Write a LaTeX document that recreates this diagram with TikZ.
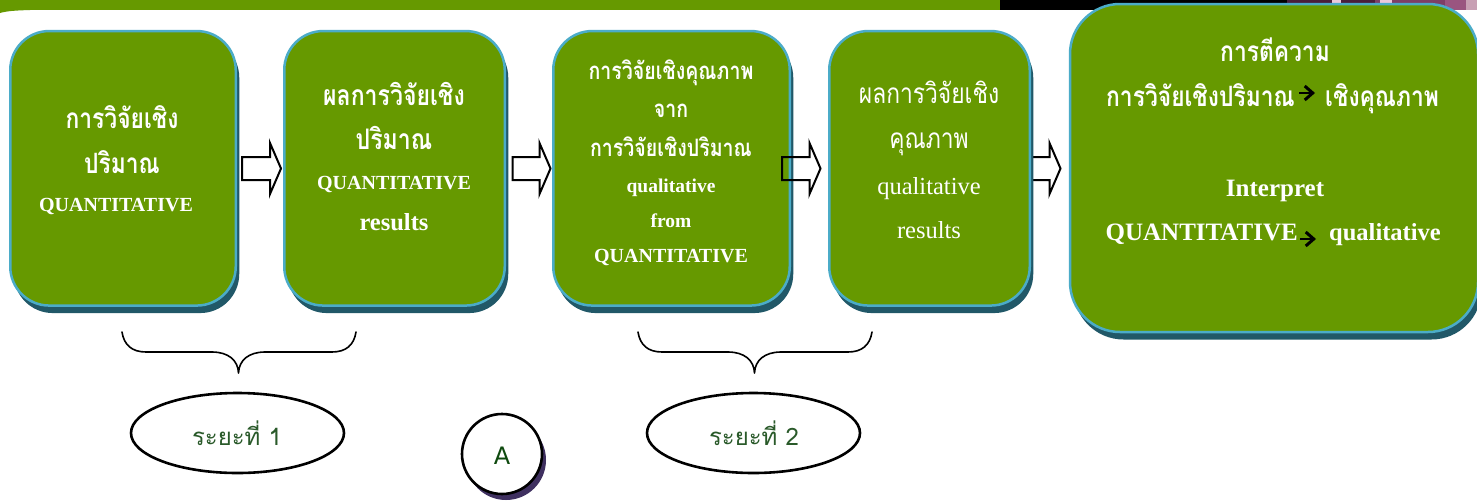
\documentclass[tikz,border=0pt]{standalone}
\usepackage{fontspec}
\usetikzlibrary{shapes.geometric,shadows,arrows.meta}
\setmainfont{Liberation Serif}
\newfontfamily\thai[Script=Thai,FakeStretch=0.815]{Loma}
\newfontfamily\thaiplain[Script=Thai]{Loma}
\newfontfamily\latinA{DejaVu Sans}
\definecolor{boxgreen}{HTML}{669900}
\definecolor{boxblue}{HTML}{4BACC8}
\definecolor{boxshade}{HTML}{215868}
\definecolor{oval}{HTML}{2A5A2A}
\definecolor{adark}{HTML}{0F4A0F}
\definecolor{purp}{HTML}{3F3060}
\definecolor{mauveA}{HTML}{4A1E3C}
\definecolor{mauveB}{HTML}{7E3E66}
\definecolor{mauveC}{HTML}{9A5580}
\definecolor{mauveD}{HTML}{C8A0B4}
\definecolor{mauveE}{HTML}{EBC8DC}
\newcommand\fs[1]{\fontsize{#1}{#1}\selectfont}
\newcommand\blockarr[3]{% name-coordinate, left extent, right extent
  \draw[blockarrow] ([shift={(#2,-11.5)}]#1) -- ([shift={(#3-11,-11.5)}]#1) -- ([shift={(#3-11,-25.5)}]#1)
   -- ([shift={(#3,0)}]#1) -- ([shift={(#3-11,25.5)}]#1) -- ([shift={(#3-11,11.5)}]#1) -- ([shift={(#2,11.5)}]#1) -- cycle;}
\tikzset{
  x=1pt,y=-1pt,
  greenbox/.style={rectangle,draw=boxblue,fill=boxgreen,line width=2.5pt,inner sep=0pt,rounded corners=#1,
    general shadow={shadow xshift=3.5pt,shadow yshift=-7.5pt,fill=boxshade}},
  greenbox/.default=39pt,
  tl/.style={anchor=base,inner sep=0pt,text=white},
  thb/.style={tl,font=\thai\bfseries\fs{#1}},
  thr/.style={tl,font=\thai\fs{#1}},
  lab/.style={tl,font=\bfseries\fs{#1}},
  lar/.style={tl,font=\fs{#1}},
  blockarrow/.style={draw=black,line width=2pt,fill=none,miter limit=10},
  brace/.style={draw=black,line width=1.6pt,line cap=round,line join=round},
  ovalnode/.style={ellipse,draw=black,fill=white,line width=2.6pt,minimum width=213pt,minimum height=80pt,inner sep=0pt},
  ovaltext/.style={anchor=base,inner sep=0pt,text=oval,font=\thaiplain\fs{24}},
  small/.style={-{Straight Barb[length=8pt,width=14pt,line width=3pt]},line width=2.4pt,draw=black}
}
\begin{document}
\begin{tikzpicture}
\path[use as bounding box,clip] (0,0) rectangle (1477,501);
\fill[white] (0,0) rectangle (1477,501);
% top band
\fill[boxgreen] (0,0) rectangle (1000,10);
\fill[boxgreen] (0,10) -- (30,10) .. controls (15,10.5) and (7,11) .. (0,13) -- cycle;
\fill[black] (1000,0) rectangle (1477,10);
\fill[mauveA] (1287,0) rectangle (1332,10);
\fill[mauveE] (1332,0) rectangle (1341,10);
\fill[mauveA] (1341,0) rectangle (1375,10);
\fill[mauveB] (1375,0) rectangle (1477,10);
\fill[mauveE] (1380,0) rectangle (1392,10);
\fill[mauveC] (1445,0) rectangle (1477,10);
\fill[mauveD] (1466,0) rectangle (1477,10);

% boxes
\node[greenbox,minimum width=225.5pt,minimum height=274.5pt] (b1) at (123,168.3) {};
\node[greenbox,minimum width=220.5pt,minimum height=274.5pt] (b2) at (394.5,168.3) {};
\node[greenbox,minimum width=236.5pt,minimum height=274.5pt] (b3) at (671.5,168.3) {};
% arrows
\coordinate (a1) at (261.5,168.5);
\coordinate (a2) at (531.5,168.5);
\coordinate (a3) at (801.5,168.5);
\coordinate (a4) at (1041,168.5);
\blockarr{a1}{-19.5}{19.5}
\blockarr{a2}{-19}{19}
\blockarr{a3}{-19.5}{19}
\blockarr{a4}{-11}{19.5}
\node[greenbox,minimum width=200.5pt,minimum height=274.5pt] (b4) at (929.5,168.3) {};
\node[greenbox=50pt,minimum width=408pt,minimum height=328pt] (b5) at (1274,168) {};

% text box 1
\node[thb=28] (t11) at (122,128) {การวิจัยเชิง};
\node[thb=28] (t12) at (122,173) {ปริมาณ};
\node[lab=20] (t13) at (116,211) {QUANTITATIVE};
% text box 2
\node[thb=28.3] (t21) at (394,105) {ผลการวิจัยเชิง};
\node[thb=28.3] (t22) at (394,149) {ปริมาณ};
\node[lab=20] (t23) at (394,189) {QUANTITATIVE};
\node[lab=24.5] (t24) at (394,230) {results};
% text box 3
\node[thb=24] (t31) at (671,79) {การวิจัยเชิงคุณภาพ};
\node[thb=24] (t32) at (671,117) {จาก};
\node[thb=24] (t33) at (671,156) {การวิจัยเชิงปริมาณ};
\node[lab=19.5] (t34) at (671,192) {qualitative};
\node[lab=19.5] (t35) at (671,227) {from};
\node[lab=20] (t36) at (671,262) {QUANTITATIVE};
% text box 4
\node[thr=28] (t41) at (929,103) {ผลการวิจัยเชิง};
\node[thr=28] (t42) at (929,148) {คุณภาพ};
\node[lar=24.5] (t43) at (929,194) {qualitative};
\node[lar=24.5] (t44) at (929,238) {results};
% text box 5
\node[thb=28] (t51) at (1275,61) {การตีความ};
\node[thb=28,anchor=base east] (t52) at (1295,106) {การวิจัยเชิงปริมาณ};
\node[thb=28,anchor=base west] (t53) at (1325,106) {เชิงคุณภาพ};
\node[lab=25] (t54) at (1275,196) {Interpret};
\node[lab=25,anchor=base east] (t55) at (1298,240) {QUANTITATIVE};
\node[lab=24.5,anchor=base west] (t56) at (1329,240) {qualitative};
\coordinate (c1) at (1299,93);
\coordinate (c2) at (1315,93);
\coordinate (c3) at (1300,239);
\coordinate (c4) at (1316,239);
\draw[small] (c1) -- (c2);
\draw[small] (c3) -- (c4);

% braces
\draw[brace] (122,332) .. controls (124,345) and (132,352) .. (146,352) -- (212,352)
  .. controls (228,352) and (238,360) .. (238.5,373)
  .. controls (239,360) and (249,352) .. (265,352) -- (332,352)
  .. controls (346,352) and (354,345) .. (356,332);
\begin{scope}[shift={(516,0)}]
\draw[brace] (122,332) .. controls (124,345) and (132,352) .. (146,352) -- (212,352)
  .. controls (228,352) and (238,360) .. (238.5,373)
  .. controls (239,360) and (249,352) .. (265,352) -- (332,352)
  .. controls (346,352) and (354,345) .. (356,332);
\end{scope}

% ovals
\node[ovalnode] (e1) at (237.5,433) {};
\node[ovaltext] (e1t) at (237,445) {ระยะที่ 1};
\node[ovalnode] (e2) at (753.5,433) {};
\node[ovaltext] (e2t) at (754,445) {ระยะที่ 2};
\node[circle,draw=black,fill=white,line width=2.6pt,minimum size=80pt,inner sep=0pt,
  general shadow={shadow xshift=4pt,shadow yshift=-6pt,fill=purp}] (ca) at (502,454) {};
\node[anchor=base,inner sep=0pt,text=adark,font=\latinA\fs{24}] (cat) at (502,464) {A};
\end{tikzpicture}
\end{document}
